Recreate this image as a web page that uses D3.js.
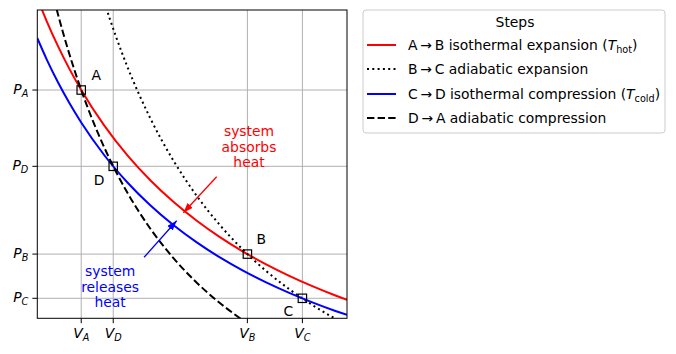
<!DOCTYPE html>
<html>
<head>
<meta charset="utf-8">
<script src="https://cdn.jsdelivr.net/npm/d3@7"></script>
<style>
body{margin:0;background:#fff;}
text{font-family:"DejaVu Sans",sans-serif;font-size:13.9px;}
</style>
</head>
<body>
<div id="chart"></div>
<script>
// states of the cycle (volume, pressure)
var states=['A','B','C','D'];
var stateV=[1.0,1.719,1.957,1.1385];
var stateP=[1.0,0.5817,0.469,0.8055];

// isotherms sampled along V
var isoV=[0.81,0.85,0.90,0.95,1.00,1.10,1.20,1.30,1.40,1.50,1.60,1.70,1.80,1.90,2.00,2.10,2.15];
var hotP=[1.2346,1.1765,1.1111,1.0526,1.0,0.9091,0.8333,0.7692,0.7143,0.6667,0.625,0.5882,0.5556,0.5263,0.5,0.4762,0.4651];
var coldP=[1.1322,1.0789,1.0190,0.9654,0.9171,0.8337,0.7643,0.7055,0.6551,0.6114,0.5732,0.5395,0.5095,0.4827,0.4586,0.4367,0.4266];

// adiabats sampled along V
var adiV=[0.85,0.90,0.95,1.00,1.05,1.10,1.15,1.20,1.30,1.40,1.50,1.60,1.70,1.80,1.90,2.00,2.10,2.15];
var adiBC=[1.8814,1.7105,1.5631,1.435,1.3229,1.2242,1.1368,1.0590,0.9267,0.8191,0.7301,0.6557,0.5927,0.5387,0.4923,0.4520,0.4167,0.4007];
var adiDA=[1.3111,1.1920,1.0893,1.0,0.9219,0.8531,0.7922,0.7380,0.6458,0.5708,0.5088,0.4569,0.4130,0.3754,0.3431,0.3150,0.2904,0.2792];

var steps=[
    {name:'A\u2009\u2192\u2009B isothermal expansion (',sym:'hot',color:'#ff0000',dash:null,xs:isoV,ys:hotP},
    {name:'B\u2009\u2192\u2009C adiabatic expansion',sym:null,color:'#000000',dash:'2,3.3',xs:adiV,ys:adiBC},
    {name:'C\u2009\u2192\u2009D isothermal compression (',sym:'cold',color:'#0000ff',dash:null,xs:isoV,ys:coldP},
    {name:'D\u2009\u2192\u2009A adiabatic compression',sym:null,color:'#000000',dash:'7.4,3.2',xs:adiV,ys:adiDA}
];

var xDomain=[0.81,2.15];
var yDomain=[0.418,1.204];

var margin={left:37.3,top:10,right:329,bottom:35.7};
var W=676,H=354;
var width=W-margin.left-margin.right;
var height=H-margin.top-margin.bottom;

var svg=d3.select('#chart').append('svg')
    .attr('width',W)
    .attr('height',H);

var defs=svg.append('defs');
defs.append('clipPath').attr('id','clip')
    .append('rect').attr('width',width).attr('height',height);
['red','blue'].forEach(function(c){
    defs.append('marker')
        .attr('id','head-'+c)
        .attr('markerUnits','userSpaceOnUse')
        .attr('markerWidth',11).attr('markerHeight',8)
        .attr('refX',10).attr('refY',3.5)
        .attr('orient','auto')
        .append('path')
        .attr('d','M0,0L10,3.5L0,7Z')
        .attr('fill',c=='red'?'#ff0000':'#0000ff');
});

var g=svg.append('g')
    .attr('transform','translate('+margin.left+','+margin.top+')');

var x=d3.scaleLinear().domain(xDomain).range([0,width]);
var y=d3.scaleLinear().domain(yDomain).range([height,0]);

// ticks at the state values, as in the picture
var xTicks=[stateV[0],stateV[3],stateV[1],stateV[2]];
var xTickLab=['A','D','B','C'];
var yTicks=[stateP[0],stateP[3],stateP[1],stateP[2]];
var yTickLab=['A','D','B','C'];

// grid
g.selectAll('.vgrid').data(xTicks).enter().append('line')
    .attr('class','vgrid')
    .attr('x1',function(d){return x(d);}).attr('x2',function(d){return x(d);})
    .attr('y1',0).attr('y2',height)
    .attr('stroke','#b0b0b0').attr('stroke-width',1);
g.selectAll('.hgrid').data(yTicks).enter().append('line')
    .attr('class','hgrid')
    .attr('y1',function(d){return y(d);}).attr('y2',function(d){return y(d);})
    .attr('x1',0).attr('x2',width)
    .attr('stroke','#b0b0b0').attr('stroke-width',1);

// curves
var line=d3.line().curve(d3.curveMonotoneX);
var curves=g.append('g').attr('clip-path','url(#clip)');
steps.forEach(function(s){
    var pts=s.xs.map(function(v,i){return [x(v),y(s.ys[i])];});
    curves.append('path')
        .attr('d',line(pts))
        .attr('fill','none')
        .attr('stroke',s.color)
        .attr('stroke-width',2)
        .attr('stroke-dasharray',s.dash);
});

// state markers + labels
var off={A:[15,-15],B:[14,-15],C:[-14,13],D:[-14,14]};
states.forEach(function(s,i){
    g.append('rect')
        .attr('x',x(stateV[i])-4.2).attr('y',y(stateP[i])-4.2)
        .attr('width',8.4).attr('height',8.4)
        .attr('fill','none').attr('stroke','#000').attr('stroke-width',1.2);
    g.append('text')
        .attr('x',x(stateV[i])+off[s][0])
        .attr('y',y(stateP[i])+off[s][1]+5)
        .attr('text-anchor','middle')
        .text(s);
});

// annotations
function note(lines,v,p,col){
    var t=g.append('text')
        .attr('text-anchor','middle')
        .attr('fill',col);
    lines.forEach(function(l,i){
        t.append('tspan')
            .attr('x',x(v))
            .attr('y',y(p)+(i-1)*15.5+5)
            .text(l);
    });
}
note(['system','absorbs','heat'],1.726,0.855,'#ff0000');
note(['system','releases','heat'],1.125,0.499,'#0000ff');

g.append('line')
    .attr('x1',x(1.586)).attr('y1',y(0.779))
    .attr('x2',x(1.442)).attr('y2',y(0.687))
    .attr('stroke','#ff0000').attr('stroke-width',1.3)
    .attr('marker-end','url(#head-red)');
g.append('line')
    .attr('x1',x(1.272)).attr('y1',y(0.5735))
    .attr('x2',x(1.413)).attr('y2',y(0.6668))
    .attr('stroke','#0000ff').attr('stroke-width',1.3)
    .attr('marker-end','url(#head-blue)');

// frame
g.append('rect')
    .attr('width',width).attr('height',height)
    .attr('fill','none').attr('stroke','#000').attr('stroke-width',1);

// ticks with math labels
xTicks.forEach(function(v,i){
    g.append('line')
        .attr('x1',x(v)).attr('x2',x(v))
        .attr('y1',height).attr('y2',height+4.9)
        .attr('stroke','#000');
    var t=g.append('text')
        .attr('x',x(v)).attr('y',height+20)
        .attr('text-anchor','middle')
        .attr('font-style','italic');
    t.append('tspan').text('V');
    t.append('tspan').attr('dy',3).attr('font-size','9.7px').text(xTickLab[i]);
});
yTicks.forEach(function(p,i){
    g.append('line')
        .attr('y1',y(p)).attr('y2',y(p))
        .attr('x1',-4.9).attr('x2',0)
        .attr('stroke','#000');
    var t=g.append('text')
        .attr('x',-9).attr('y',y(p)+4)
        .attr('text-anchor','end')
        .attr('font-style','italic');
    t.append('tspan').text('P');
    t.append('tspan').attr('dy',3).attr('font-size','9.7px').text(yTickLab[i]);
});

// legend
var lg=svg.append('g').attr('transform','translate(363,10)');
lg.append('rect')
    .attr('width',302).attr('height',123)
    .attr('rx',3)
    .attr('fill','#fff').attr('fill-opacity',0.8)
    .attr('stroke','#cccccc');
lg.append('text')
    .attr('x',152).attr('y',17)
    .attr('text-anchor','middle')
    .text('Steps');
var rowY=[35,59,84,108];
steps.forEach(function(s,i){
    lg.append('line')
        .attr('x1',4).attr('x2',33)
        .attr('y1',rowY[i]).attr('y2',rowY[i])
        .attr('stroke',s.color).attr('stroke-width',2)
        .attr('stroke-dasharray',s.dash);
    var t=lg.append('text')
        .attr('x',45).attr('y',rowY[i]+5);
    t.append('tspan').text(s.name);
    if(s.sym){
        t.append('tspan').attr('font-style','italic').text('T');
        t.append('tspan').attr('dy',3).attr('font-size','9.7px').text(s.sym);
        t.append('tspan').attr('dy',-3).text(')');
    }
});
</script>
</body>
</html>
